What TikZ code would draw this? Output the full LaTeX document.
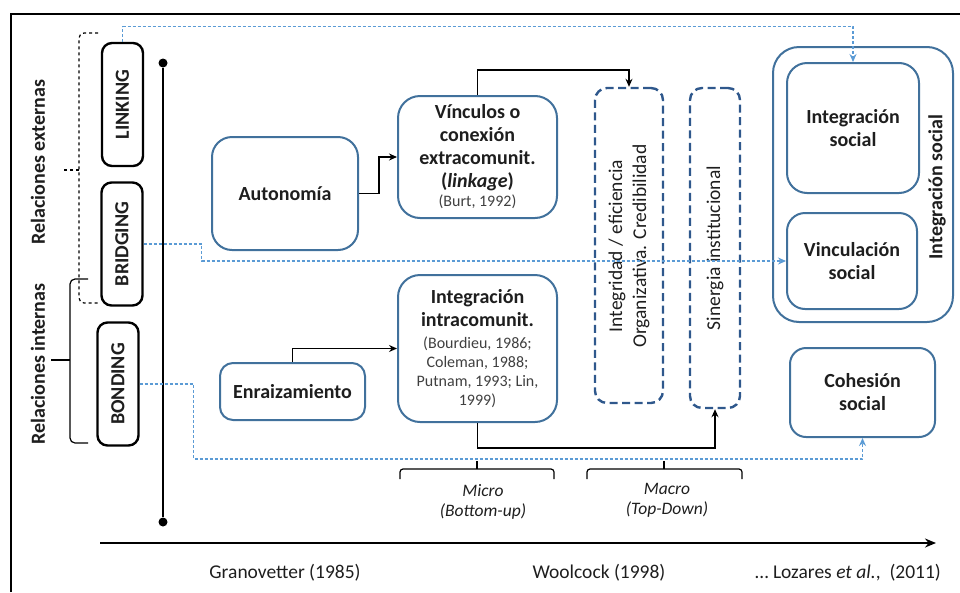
\documentclass[tikz,border=0pt]{standalone}
\usepackage{fontspec}
\setmainfont{Carlito}
\usepackage{xcolor}
\usepackage{tikz}
\usetikzlibrary{arrows.meta,positioning}
\definecolor{boxblue}{RGB}{65,113,156}
\definecolor{dashblue}{RGB}{47,88,140}
\definecolor{lineblue}{RGB}{91,155,213}
\definecolor{citegray}{RGB}{64,64,64}
\definecolor{txt}{RGB}{30,30,30}
\newcommand\ctx[1]{{\mdseries\color{citegray}\fontsize{16}{18}\selectfont #1}}

\begin{document}
\begin{tikzpicture}[x=1pt, y=-1pt, text=txt,
  bx/.style={draw=boxblue, line width=2pt, rounded corners=20pt, fill=white,
    align=center, inner sep=0pt, font=\bfseries\fontsize{20}{23}\selectfont},
  kbx/.style={draw=black, line width=2.4pt, rounded corners=10pt, inner sep=0pt,
    minimum width=41, minimum height=123, font=\bfseries\fontsize{20}{23}\selectfont},
  dbx/.style={draw=dashblue, line width=2.4pt, dash pattern=on 8pt off 4.5pt,
    rounded corners=12pt, inner sep=0pt},
  vtxt/.style={rotate=90, align=center, font=\fontsize{19.5}{24}\selectfont},
  conn/.style={line width=1.4pt, -{Stealth[length=8pt,width=7pt]}},
  bconn/.style={lineblue, line width=1.2pt, dash pattern=on 3pt off 2pt,
    -{Stealth[length=8pt,width=7pt]}},
  dot/.style={circle, fill=black, inner sep=0pt, minimum size=9}]
  \useasboundingbox (0,0) rectangle (960,592);
  \draw[line width=2pt] (11,592) -- (11,14) -- (960,14);

  % left side: kinds of ties
  \node[kbx] (link) at (122.5,104.5) {\rotatebox{90}{LINKING}};
  \node[kbx] (bridg) at (122,244) {\rotatebox{90}{BRIDGING}};
  \node[kbx] (bond) at (118,384) {\rotatebox{90}{BONDING}};
  \node[rotate=90, font=\bfseries\fontsize{20}{23}\selectfont] (relext) at (38,162)
       {Relaciones externas};
  \node[rotate=90, font=\bfseries\fontsize{20}{23}\selectfont] (relint) at (38,364)
       {Relaciones internas};
  \draw[line width=1.2pt, dashed, rounded corners=5pt] (98,33) -- (79,33) -- (79,303) -- (100,303);
  \draw[line width=1.2pt, dashed] (79,170) -- (62,170);
  \draw[line width=1.2pt, rounded corners=5pt] (88,279) -- (70,279) -- (70,443) -- (88,443);
  \draw[line width=1.2pt] (70,360) -- (51,360);

  % time line
  \node[dot] (ttop) at (163,63) {};
  \node[dot] (tbot) at (163,522) {};
  \draw[line width=2.6pt] (ttop) -- (tbot);

  % main boxes
  \node[bx, minimum width=146, minimum height=113] (auton) at (285,193.5) {Autonomía};
  \node[bx, minimum width=145, minimum height=57, rounded corners=13pt] (enraiz)
       at (292.5,391.5) {Enraizamiento};
  \node[bx, minimum width=159, minimum height=122, rounded corners=22pt] (vinc)
       at (477.5,157) {Vínculos o\\conexión\\extracomunit.\\(\textit{linkage})\\[-4pt]
        \ctx{(Burt, 1992)}};
  \node[bx, minimum width=159, minimum height=147, rounded corners=22pt] (intra)
       at (477.5,348.5) {Integración\\intracomunit.\\[-1pt]
        \ctx{(Bourdieu, 1986;}\\[-4pt]\ctx{Coleman, 1988;}\\[-4pt]
        \ctx{Putnam, 1993; Lin,}\\[-4pt]\ctx{1999)}};

  % dashed columns
  \node[dbx, minimum width=68, minimum height=315] (integr) at (629,245.5) {};
  \node[vtxt] (integrt) at (629,246) {Integridad / eficiencia\\Organizativa. Credibilidad};
  \node[dbx, minimum width=50, minimum height=320] (sinerg) at (715,248) {};
  \node[vtxt] (sinergt) at (sinerg) {Sinergia institucional};

  % right side
  \node[bx, minimum width=180, minimum height=275, rounded corners=26pt] (outer)
       at (863,184.5) {};
  \node[rotate=90, font=\bfseries\fontsize{20}{23}\selectfont] (outlbl) at (937,187)
       {Integración social};
  \node[bx, minimum width=132, minimum height=130] (intsoc) at (853,128)
       {Integración\\social};
  \node[bx, minimum width=130, minimum height=96, rounded corners=18pt] (vincsoc)
       at (852,261) {Vinculación\\social};
  \node[bx, minimum width=145, minimum height=89, rounded corners=16pt] (cohes)
       at (862.5,392.5) {Cohesión\\social};

  % black connectors
  \draw[conn] (auton.east) -- ++(20,0) |- (vinc.west);
  \draw[conn] (vinc.north) -- ++(0,-25) -| (integr.north);
  \draw[conn] (enraiz.north) |- (intra.west);
  \draw[conn] (intra.south) -- ++(0,25) -| (sinerg.south);

  % blue dashed connectors
  \draw[bconn] (link.north) -- ++(0,-15) -| (intsoc.north);
  \draw[bconn] (bridg.east) -- ++(58,0) -- ++(0,17) -- (vincsoc.west);
  \draw[bconn] (bond.east) -- ++(54,0) -- ++(0,75) -| (cohes.south);

  % micro / macro
  \foreach \a/\m/\b in {400/477/554, 587/664/742} {
    \draw[line width=1.2pt, rounded corners=3pt] (\a,479) -- (\a,469) -- (\b,469) -- (\b,479);
    \draw[line width=1.2pt] (\m,469) -- (\m,461);
  }
  \node[align=center, font=\itshape\fontsize{17.5}{20}\selectfont] (micro) at (483,502)
       {Micro\\(Bottom-up)};
  \node[align=center, font=\itshape\fontsize{17.5}{20}\selectfont] (macro) at (667,500)
       {Macro\\(Top-Down)};

  % authors axis
  \coordinate (axs) at (100,543);
  \coordinate (axe) at (936,543);
  \draw[line width=2.6pt, -{Stealth[length=11pt,width=9pt]}] (axs) -- (axe);
  \node[font=\fontsize{19.5}{22}\selectfont] (grano) at (285,573) {Granovetter (1985)};
  \node[font=\fontsize{19.5}{22}\selectfont] (wool) at (599,573) {Woolcock (1998)};
  \node[font=\fontsize{19.5}{22}\selectfont] (loz) at (848,573)
       {… Lozares \textit{et al.},\ \ (2011)};
\end{tikzpicture}
\end{document}
